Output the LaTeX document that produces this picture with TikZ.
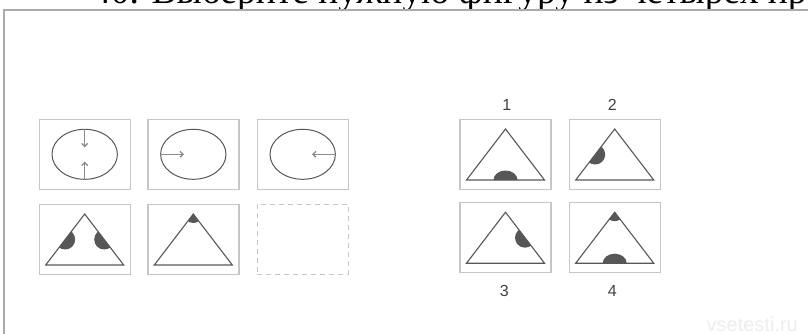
\documentclass[tikz,border=0pt]{standalone}
\usepackage{fontspec}
\setmainfont{Liberation Serif}
\newfontfamily\labelfont{Liberation Sans}
\usetikzlibrary{arrows.meta,calc,shapes.geometric}

\definecolor{framegray}{HTML}{ABABAB}
\definecolor{boxgray}{HTML}{C6C6C6}
\definecolor{figgray}{HTML}{575757}
\definecolor{arrowgray}{HTML}{8C8C8C}
\definecolor{markgray}{HTML}{EDEDED}

\tikzset{
  cell/.style={draw=boxgray, line width=1.4pt, minimum width=91pt, minimum height=70pt, inner sep=0pt},
  oval/.style={ellipse, draw=figgray, line width=1pt, minimum width=65.4pt, minimum height=50pt, inner sep=0pt},
  ptr/.style={draw=arrowgray, line width=1.3pt, -{Straight Barb[length=3pt,width=6pt]}},
  tri/.style={draw=figgray, line width=1.1pt},
  blob/.style={fill=figgray},
  num/.style={font=\labelfont\fontsize{16}{19}\selectfont, text=black!75},
}

\begin{document}
\begin{tikzpicture}[x=1pt, y=-1pt]
  \useasboundingbox (0,0) rectangle (808,334);
  \begin{scope}
    \clip (0,0) rectangle (808,334);
    \node[anchor=base west, inner sep=0pt, font=\fontsize{37.5}{42}\selectfont] (title) at (92,3.5)
      {40. Выберите нужную фигуру из четырех предложенных};
  \end{scope}
  \draw[framegray, line width=1.5pt] (4,334) -- (4,10) -- (808,10);

  % question cells
  \node[cell] (q1) at (84.7,154.3) {};
  \node[cell] (q2) at (193.3,154.3) {};
  \node[cell] (q3) at (302.7,154.3) {};
  \node[cell] (q4) at (84.7,239.3) {};
  \node[cell] (q5) at (193.3,239.3) {};
  \node[cell, dash pattern=on 5pt off 4pt] (q6) at (302.7,239.3) {};

  % answer cells
  \node[cell] (a1) at (505.5,154.3) {};
  \node[cell] (a2) at (614.7,154.3) {};
  \node[cell] (a3) at (505.5,237.5) {};
  \node[cell] (a4) at (614.7,237.5) {};

  % ovals with arrows
  \node[oval] (e1) at (q1) {};
  \node[oval] (e2) at (q2) {};
  \node[oval] (e3) at (q3) {};
  \coordinate (e1-t) at ($(e1.center)+(0,-7)$);
  \coordinate (e1-b) at ($(e1.center)+(0,7.4)$);
  \coordinate (e2-t) at ($(e2.center)+(-9.3,0)$);
  \coordinate (e3-t) at ($(e3.center)+(9.3,0)$);
  \draw[ptr] (e1.north) -- (e1-t);
  \draw[ptr] (e1.south) -- (e1-b);
  \draw[ptr] (e2.west) -- (e2-t);
  \draw[ptr] (e3.east) -- (e3-t);

  % triangles
  \foreach \c in {q4,q5,a1,a2,a3,a4} {
    \coordinate (\c-A) at ($(\c)+(0,-25.3)$);
    \coordinate (\c-L) at ($(\c)+(-39,25.7)$);
    \coordinate (\c-R) at ($(\c)+(39,25.7)$);
  }

  \begin{scope}
    \clip (q4-A) -- (q4-L) -- (q4-R) -- cycle;
    \fill[blob] ($(q4-L)!0.5!(q4-A)$) circle (10);
    \fill[blob] ($(q4-R)!0.5!(q4-A)$) circle (10);
  \end{scope}
  \begin{scope}
    \clip (q5-A) -- (q5-L) -- (q5-R) -- cycle;
    \fill[blob] (q5-A) circle (9);
  \end{scope}
  \begin{scope}
    \clip (a1-A) -- (a1-L) -- (a1-R) -- cycle;
    \fill[blob] ($(a1-L)!0.5!(a1-R)$) ellipse [x radius=12, y radius=9.5];
  \end{scope}
  \begin{scope}
    \clip (a2-A) -- (a2-L) -- (a2-R) -- cycle;
    \fill[blob] ($(a2-L)!0.5!(a2-A)$) circle (10);
  \end{scope}
  \begin{scope}
    \clip (a3-A) -- (a3-L) -- (a3-R) -- cycle;
    \fill[blob] ($(a3-R)!0.5!(a3-A)$) circle (10);
  \end{scope}
  \begin{scope}
    \clip (a4-A) -- (a4-L) -- (a4-R) -- cycle;
    \fill[blob] (a4-A) circle (9);
    \fill[blob] ($(a4-L)!0.5!(a4-R)$) ellipse [x radius=12, y radius=9.5];
  \end{scope}

  \foreach \c in {q4,q5,a1,a2,a3,a4}
    \draw[tri] (\c-A) -- (\c-L) -- (\c-R) -- cycle;

  % answer numbers
  \node[num] (n1) at ($(a1.north)+(1.2,-13.6)$) {1};
  \node[num] (n2) at ($(a2.north)+(-2.4,-13.6)$) {2};
  \node[num] (n3) at ($(a3.south)+(-1.2,17.5)$) {3};
  \node[num] (n4) at ($(a4.south)+(-2.4,17.5)$) {4};

  \node[anchor=base east, inner sep=0pt, text=markgray, font=\labelfont\fontsize{20}{24}\selectfont]
    (mark) at (798,331) {vsetesti.ru};
\end{tikzpicture}
\end{document}
